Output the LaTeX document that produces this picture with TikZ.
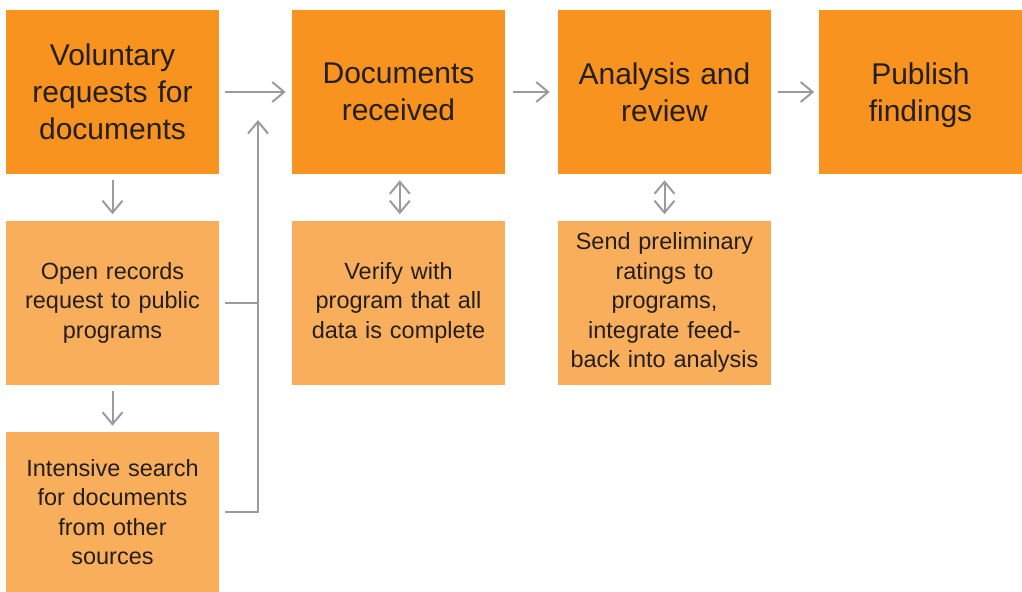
\documentclass[tikz,border=0pt]{standalone}
\usepackage{fontspec}
\setmainfont{Liberation Sans}
\usetikzlibrary{arrows.meta}

\definecolor{darkorange}{HTML}{F7931E}
\definecolor{lightorange}{HTML}{F9AE5B}
\definecolor{flowgray}{HTML}{9A9B9E}
\definecolor{inktext}{HTML}{231F20}

\begin{document}
\begin{tikzpicture}[x=0.75pt,y=-0.75pt,
    bigbox/.style={fill=darkorange,text=inktext,minimum width=159.75pt,minimum height=123pt,
      inner sep=0pt,text width=153pt,align=center,font=\fontsize{22.5}{27.75}\selectfont},
    smallbox/.style={fill=lightorange,text=inktext,minimum width=159.75pt,minimum height=123pt,
      inner sep=0pt,text width=153pt,align=center,font=\fontsize{17.6}{22.1}\selectfont},
    flow/.style={draw=flowgray,line width=1.5pt,-{Straight Barb[length=9pt,width=15pt,line width=1.5pt]}},
    twoway/.style={draw=flowgray,line width=1.5pt,{Straight Barb[length=9pt,width=15pt,line width=1.5pt]}-{Straight Barb[length=9pt,width=15pt,line width=1.5pt]}},
    plain/.style={draw=flowgray,line width=1.5pt}]
  \useasboundingbox (0,0) rectangle (1022,592);
  % top row
  \node[bigbox] (volreq) at (112.5,92) {Voluntary\\requests for\\documents};
  \node[bigbox] (docsin) at (398.5,92) {Documents\\received};
  \node[bigbox] (review) at (664.5,92) {Analysis and\\review};
  \node[bigbox,minimum width=150.75pt] (publish) at (920.5,92) {Publish\\\raisebox{0pt}[\height][0pt]{findings}};
  % lower boxes
  \node[smallbox] (openrec) at (112.5,302.5) {Open records\\request to public\\programs};
  \node[smallbox,minimum height=120pt] (search) at (112.5,512) {Intensive search\\for documents\\from other\\sources};
  \node[smallbox] (verify) at (398.5,302.5) {Verify with\\program that all\\data is complete};
  \node[smallbox] (prelim) at (664.5,302.5) {Send preliminary\\ratings to\\programs,\\integrate feed-\\back into analysis};
  % arrows
  \draw[flow,shorten <=4pt,shorten >=4.5pt] (volreq) -- (volreq -| docsin.west);
  \draw[flow,shorten <=6pt,shorten >=6pt] (docsin) -- (review);
  \draw[flow,shorten <=5pt,shorten >=3pt] (review) -- (publish);
  \draw[flow,shorten <=4.5pt,shorten >=4.5pt] (volreq) -- (openrec);
  \draw[flow,shorten <=4.5pt,shorten >=4.5pt] (openrec) -- (search);
  \draw[twoway,shorten <=4.5pt,shorten >=4.5pt] ([xshift=1pt]docsin.south) -- ([xshift=1pt]verify.north);
  \draw[twoway,shorten <=4.5pt,shorten >=4.5pt] (review) -- (prelim);
  % bracket
  \coordinate (join) at (258,120);
  \draw[plain,shorten <=4.5pt] (openrec.east) -- (openrec.east -| join);
  \draw[flow,shorten <=4.5pt] (search.east) -| (join);
\end{tikzpicture}
\end{document}
